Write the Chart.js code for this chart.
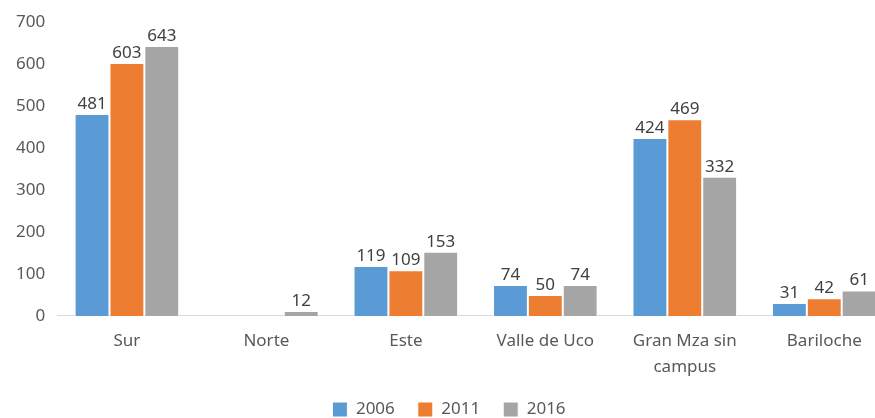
<!DOCTYPE html>
<html>
<head>
<meta charset="utf-8">
<script src="https://cdn.jsdelivr.net/npm/chart.js@4/dist/chart.umd.min.js"></script>
<style>
  html, body { margin: 0; padding: 0; background: #fff; overflow: hidden; }
  #wrap { width: 894px; height: 418px; overflow: hidden; }
</style>
</head>
<body>
<div id="wrap"><canvas id="myChart" width="894" height="418"></canvas></div>
<script>
// categories and series
const categories = ["Sur", "Norte", "Este", "Valle de Uco", ["Gran Mza sin", "campus"], "Bariloche"];
const years = ["2006", "2011", "2016"];
const values2006 = [481, null, 119, 74, 424, 31];
const values2011 = [603, null, 109, 50, 469, 42];
const values2016 = [643, 12, 153, 74, 332, 61];
const yTicks = [0, 100, 200, 300, 400, 500, 600, 700];

const colors = ["#5B9BD5", "#ED7D31", "#A5A5A5"];
const fontFamily = "'Noto Sans', sans-serif";

// draws the value above each bar
const barLabels = {
  id: "barLabels",
  afterDatasetsDraw(chart) {
    const ctx = chart.ctx;
    ctx.save();
    ctx.font = "17px " + fontFamily;
    ctx.fillStyle = "#404040";
    ctx.textAlign = "center";
    ctx.textBaseline = "alphabetic";
    chart.data.datasets.forEach(function(ds, i) {
      const meta = chart.getDatasetMeta(i);
      meta.data.forEach(function(bar, j) {
        const v = ds.data[j];
        if (v == null) return;
        ctx.fillText(String(v), bar.x, bar.y - 5);
      });
    });
    ctx.restore();
  }
};

var data = {
  labels: categories,
  datasets: [
    { label: years[0], data: values2006, backgroundColor: colors[0], borderColor: "#fff", borderWidth: 1 },
    { label: years[1], data: values2011, backgroundColor: colors[1], borderColor: "#fff", borderWidth: 1 },
    { label: years[2], data: values2016, backgroundColor: colors[2], borderColor: "#fff", borderWidth: 1 }
  ]
};

var config = {
  type: "bar",
  data: data,
  options: {
    responsive: false,
    animation: false,
    layout: { padding: { top: 12, left: 4, right: 0, bottom: 0 } },
    datasets: { bar: { categoryPercentage: 0.75, barPercentage: 1.0 } },
    scales: {
      x: {
        grid: { display: false, drawTicks: false },
        border: { display: true, color: "#D9D9D9", width: 1 },
        ticks: { color: "#595959", font: { family: fontFamily, size: 17, lineHeight: 1.53 }, maxRotation: 0, autoSkip: false, padding: 12 },
        afterFit: function(axis) { axis.height -= 14; }
      },
      y: {
        min: 0,
        max: 700,
        afterBuildTicks: function(axis) { axis.ticks = yTicks.map(function(v) { return { value: v }; }); },
        grid: { display: false, drawTicks: false },
        border: { display: false },
        ticks: { color: "#595959", font: { family: fontFamily, size: 17 }, padding: 12 }
      }
    },
    plugins: {
      legend: {
        position: "bottom",
        maxHeight: 40,
        labels: { color: "#595959", font: { family: fontFamily, size: 17 }, boxWidth: 15, boxHeight: 15, padding: 23 }
      },
      tooltip: { enabled: false }
    }
  },
  plugins: [barLabels]
};

var myChart = new Chart(document.getElementById("myChart"), config);
</script>
</body>
</html>
